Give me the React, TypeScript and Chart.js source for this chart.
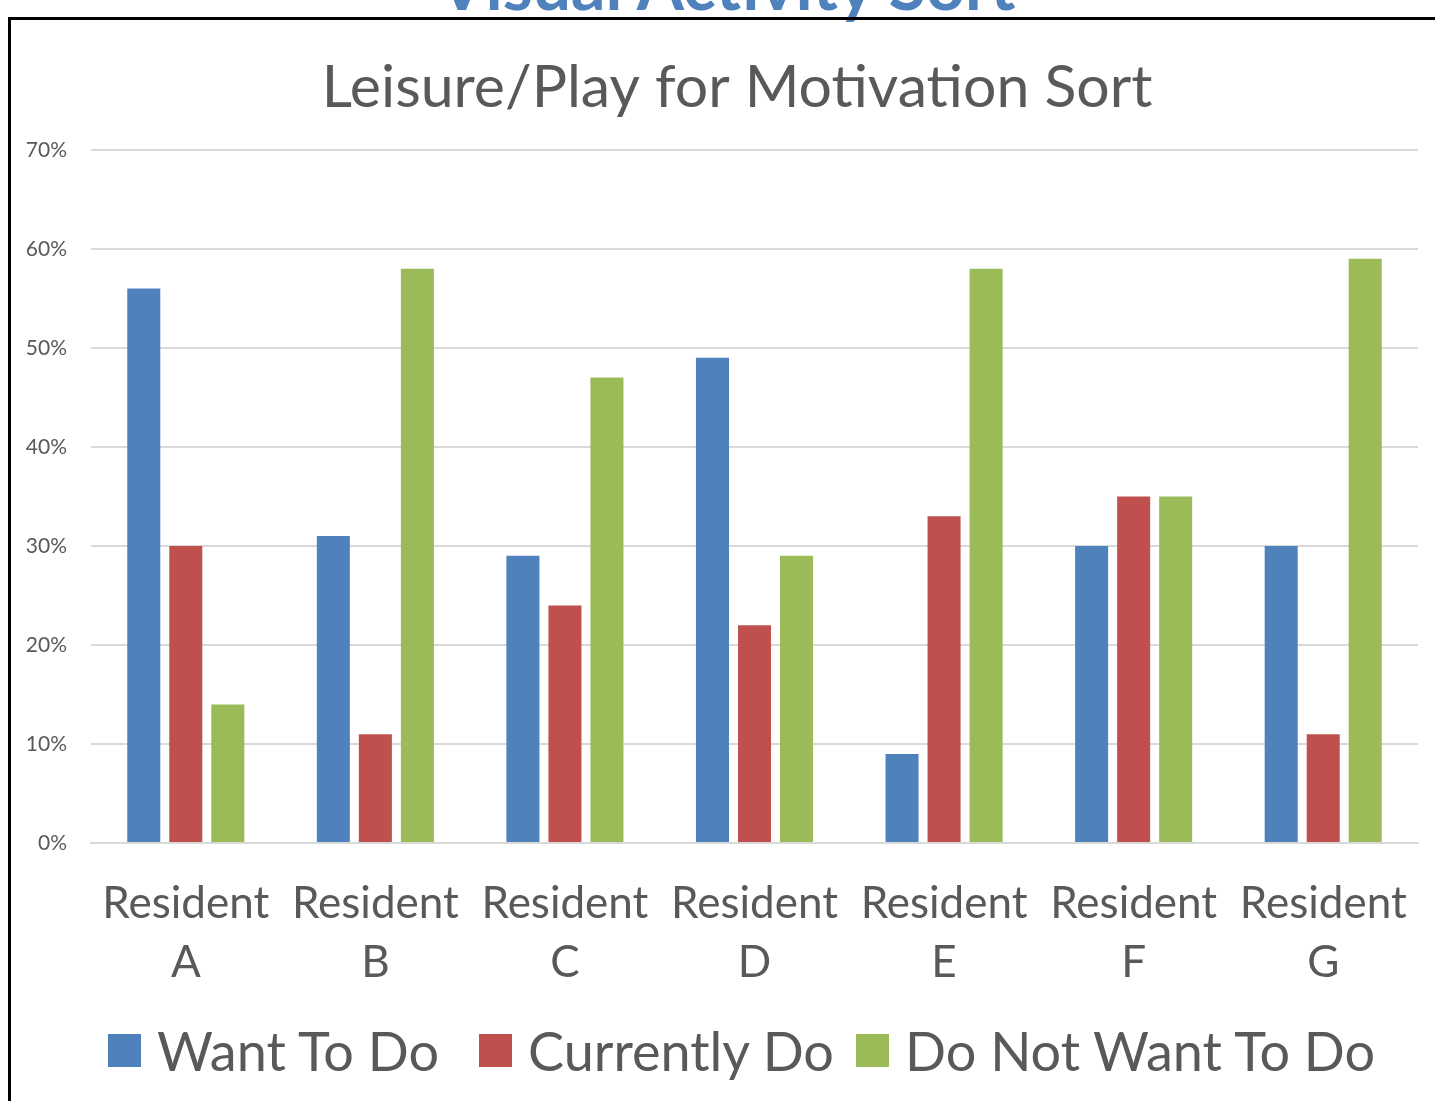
import React, { useEffect, useRef } from "react";
import { Chart, registerables } from "chart.js";

Chart.register(...registerables);

const categories: string[][] = [
  ["Resident", "A"],
  ["Resident", "B"],
  ["Resident", "C"],
  ["Resident", "D"],
  ["Resident", "E"],
  ["Resident", "F"],
  ["Resident", "G"],
];
const wantToDo = [56, 31, 29, 49, 9, 30, 30];
const currentlyDo = [30, 11, 24, 22, 33, 35, 11];
const doNotWantToDo = [14, 58, 47, 29, 58, 35, 59];
const seriesNames = ["Want To Do", "Currently Do", "Do Not Want To Do"];
const seriesColors = ["#4f81bd", "#c0504d", "#9bbb59"];
const yTicks = [0, 10, 20, 30, 40, 50, 60, 70];
const chartTitle = "Leisure/Play for Motivation Sort";
const pageTitle = "Visual Activity Sort";

const FONT = "Lato, 'Open Sans', sans-serif";
const TEXT = "#595959";
const legendLefts = [108, 479, 856];

export default function App() {
  const ref = useRef<HTMLCanvasElement | null>(null);
  useEffect(() => {
    if (!ref.current) return;
    const chart = new Chart(ref.current, {
      type: "bar",
      data: {
        labels: categories,
        datasets: [wantToDo, currentlyDo, doNotWantToDo].map((d, i) => ({
          label: seriesNames[i],
          data: d,
          backgroundColor: seriesColors[i],
          borderWidth: 0,
          categoryPercentage: 0.665,
          barPercentage: 0.786,
        })),
      },
      options: {
        responsive: false,
        animation: false,
        maintainAspectRatio: false,
        layout: { padding: { top: 53, left: 20, right: 0, bottom: 78 } },
        plugins: {
          tooltip: { enabled: false },
          title: {
            display: true,
            text: chartTitle,
            color: TEXT,
            font: { family: FONT, size: 59, weight: "normal", lineHeight: 1.2 },
            padding: { top: 0, bottom: 26 },
          },
          legend: { display: false },
        },
        scales: {
          x: {
            grid: { display: false, drawTicks: false },
            border: { display: true, color: "#d9d9d9", width: 2 },
            ticks: {
              color: TEXT,
              font: { family: FONT, size: 44, lineHeight: 1.34 },
              padding: 31,
              maxRotation: 0,
              autoSkip: false,
            },
          },
          y: {
            min: yTicks[0],
            max: yTicks[yTicks.length - 1],
            grid: { color: "#d9d9d9", lineWidth: 2, drawTicks: false },
            border: { display: false },
            afterBuildTicks: (s: any) => {
              s.ticks = yTicks.map((v) => ({ value: v }));
            },
            ticks: {
              color: TEXT,
              font: { family: FONT, size: 21 },
              padding: 24,
              callback: (v: any) => v + "%",
            },
            afterFit: (s: any) => {
              s.width = 71;
            },
          },
          // empty right margin of the chart frame (keeps the title centred as in the original)
          yRight: {
            position: "right",
            display: true,
            grid: { display: false, drawTicks: false },
            border: { display: false },
            ticks: { display: false },
            afterFit: (s: any) => {
              s.width = 36;
            },
          },
        },
      },
    });
    return () => chart.destroy();
  }, []);

  return (
    <div
      style={{
        position: "fixed",
        left: 0,
        top: 0,
        width: 1435,
        height: 1101,
        overflow: "hidden",
        background: "#fff",
      }}
    >
      <div
        style={{
          position: "absolute",
          left: 0,
          width: 1454,
          top: -50,
          textAlign: "center",
          fontFamily: FONT,
          fontWeight: "bold",
          fontSize: 68,
          lineHeight: 1,
          color: "#4f81bd",
          whiteSpace: "nowrap",
        }}
      >
        {pageTitle}
      </div>
      <div
        style={{
          position: "absolute",
          left: 8,
          top: 17,
          width: 1500,
          height: 1200,
          borderLeft: "3px solid #000",
          borderTop: "3px solid #000",
        }}
      />
      <canvas
        ref={ref}
        width={1454}
        height={1101}
        style={{ position: "absolute", left: 0, top: 0 }}
      />
      {seriesNames.map((name, i) => (
        <div
          key={name}
          style={{
            position: "absolute",
            left: legendLefts[i],
            top: 1017,
            height: 66,
            display: "flex",
            alignItems: "center",
            fontFamily: FONT,
            fontSize: 54,
            color: TEXT,
            whiteSpace: "nowrap",
          }}
        >
          <span
            style={{
              display: "inline-block",
              width: 33,
              height: 33,
              background: seriesColors[i],
              marginRight: 16,
            }}
          />
          <span>{name}</span>
        </div>
      ))}
    </div>
  );
}
